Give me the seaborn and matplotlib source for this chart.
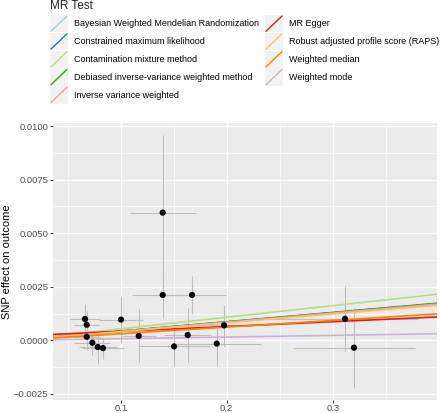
import matplotlib
matplotlib.use("Agg")
import matplotlib.pyplot as plt
import seaborn as sns
import pandas as pd
from matplotlib.patches import Rectangle
from matplotlib.lines import Line2D
from matplotlib.ticker import FixedLocator, StrMethodFormatter

# SNP-level data (exposure effect, outcome effect, standard errors)
snp_x = [0.0663, 0.0679, 0.0679, 0.0732, 0.0783, 0.0833, 0.1003, 0.1170, 0.1396,
         0.1396, 0.1503, 0.1632, 0.1673, 0.1906, 0.1975, 0.3116, 0.3201]
snp_y = [0.00100, 0.00073, 0.00017, -0.00011, -0.00031, -0.00036, 0.00097, 0.00021, 0.00596,
         0.00212, -0.00028, 0.00025, 0.00212, -0.00015, 0.00070, 0.00101, -0.00034]
se_x = [0.014, 0.012, 0.013, 0.017, 0.018, 0.020, 0.021, 0.016, 0.031,
        0.029, 0.034, 0.022, 0.032, 0.042, 0.035, 0.069, 0.058]
se_y = [0.00068, 0.00062, 0.00060, 0.00057, 0.00080, 0.00050, 0.00108, 0.00124, 0.00360,
        0.00107, 0.00090, 0.00125, 0.00090, 0.00105, 0.00097, 0.00152, 0.00187]

# MR method estimates
methods = ["Bayesian Weighted Mendelian Randomization", "Constrained maximum likelihood",
           "Contamination mixture method", "Debiased inverse-variance weighted method",
           "Inverse variance weighted", "MR Egger", "Robust adjusted profile score (RAPS)",
           "Weighted median", "Weighted mode"]
slopes = [0.00420, 0.00430, 0.00540, 0.00435, 0.00425, 0.00224, 0.00410, 0.00310, 0.00078]
intercepts = [0, 0, 0, 0, 0, 0.00020, 0, 0, 0]

x_ticks = [0.1, 0.2, 0.3]
y_ticks = [-0.0025, 0.0, 0.0025, 0.0050, 0.0075, 0.0100]

sns.set_theme(style="darkgrid")
plt.rcParams["font.family"] = ["Liberation Sans", "DejaVu Sans"]

W, H = 440, 413
colors = sns.color_palette("Paired", len(methods))
snps = pd.DataFrame({"bx": snp_x, "by": snp_y, "sx": se_x, "sy": se_y})

fig = plt.figure(figsize=(W / 100, H / 100), dpi=100)
ax = fig.add_axes([53 / W, 1 - 400 / H, 384 / W, 277 / H])
ax.set_facecolor("#EBEBEB")

ax.set_xlim(0.0361, 0.3984)
ax.set_ylim(-0.00278, 0.01014)
ax.xaxis.set_major_locator(FixedLocator(x_ticks))
ax.yaxis.set_major_locator(FixedLocator(y_ticks))
ax.xaxis.set_minor_locator(FixedLocator([0.05, 0.15, 0.25, 0.35]))
ax.yaxis.set_minor_locator(FixedLocator([-0.00125, 0.00125, 0.00375, 0.00625, 0.00875]))
ax.xaxis.set_major_formatter(StrMethodFormatter("{x:.1f}"))
ax.yaxis.set_major_formatter(StrMethodFormatter("{x:.4f}"))
ax.grid(which="major", color="white", lw=1.0)
ax.grid(which="minor", color="white", lw=0.5)
ax.set_axisbelow(True)
for s in ax.spines.values():
    s.set_visible(False)
ax.tick_params(which="major", length=2.2, width=0.7, color="#333333",
               labelsize=6.8, labelcolor="#4D4D4D", pad=1.2,
               bottom=True, left=True)
ax.tick_params(axis="x", pad=0.6)
ax.tick_params(which="minor", length=0)

ax.errorbar(snps["bx"], snps["by"], xerr=snps["sx"], yerr=snps["sy"],
            fmt="none", ecolor="#BEBEBE", elinewidth=0.8, capsize=0, zorder=2)

for m, b, a, c in zip(methods, slopes, intercepts, colors):
    ax.axline((0, a), slope=b, color=c, lw=1.2, zorder=3)

sns.scatterplot(data=snps, x="bx", y="by", color="black", s=20,
                edgecolor="none", ax=ax, zorder=4)
ax.set_xlabel("")
ax.set_ylabel("SNP effect on outcome", fontsize=8, color="black")
ax.yaxis.set_label_coords((12 - 53) / 384, 0.5)

# legend drawn in ggplot style: grey keys with diagonal lines, two columns
fig.text(50 / W, 1 - 6 / H, "MR Test", fontsize=8.5, va="center", ha="left")
key_w, key_h = 18, 17.8
for i, (m, c) in enumerate(zip(methods, colors)):
    col, row = divmod(i, 5)
    kx = 50 if col == 0 else 265
    ky = 15 + row * key_h
    fig.patches.append(Rectangle((kx / W, 1 - (ky + key_h - 0.5) / H), key_w / W, (key_h - 0.5) / H,
                                 transform=fig.transFigure, facecolor="#F2F2F2", edgecolor="none"))
    fig.lines.append(Line2D([(kx + 1) / W, (kx + key_w - 1) / W],
                            [1 - (ky + key_h - 1.5) / H, 1 - (ky + 1) / H],
                            transform=fig.transFigure, color=c, lw=1.0))
    fig.text((kx + key_w + 6) / W, 1 - (ky + key_h / 2) / H, m, fontsize=6.5,
             va="center", ha="left", color="black")

fig.savefig("out.png", dpi=100)
